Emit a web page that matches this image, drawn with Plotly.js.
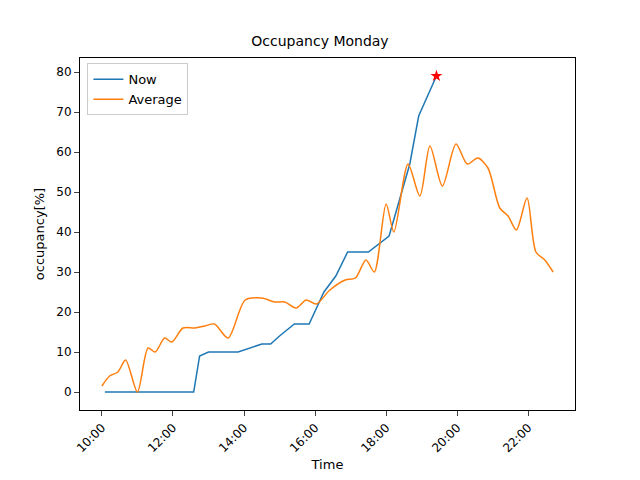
<html><head><script src="https://cdn.plot.ly/plotly-3.0.1.min.js"></script></head>
<body style="margin:0"><div id="chart" style="width:640px;height:480px"></div>
<script>
let day = "2024-01-01 "
let nowTimes = ["10:05","12:35","12:45","13:00","13:50","14:30","14:45","15:00","15:25","15:50","16:15","16:35","16:55","17:30","18:05","18:40","18:55","19:25"]
let nowValues = [0,0,9,10,10,12,12,14,17,17,25,29,35,35,39,57,69,79]
let avgTimes = ["10:00","10:13","10:27","10:40","11:00","11:18","11:30","11:46","11:58","12:17","12:37","12:54","13:10","13:33","14:02","14:30","14:52","15:09","15:28","15:45","16:02","16:25","16:51","17:08","17:26","17:40","18:00","18:13","18:37","18:57","19:14","19:35","19:58","20:17","20:35","20:52","21:12","21:26","21:40","21:58","22:13","22:28","22:42"]
let avgValues = [1.5,4,5,8,0,11,10,13.5,12.5,16,16,16.5,17,13.5,23,23.5,22.5,22.5,21,23,22,25.5,28,28.5,33,30,47,40,57,49,61.5,51.5,62,57,58.5,56,46,44,40.5,48.5,35,33,30]
let tickTimes = ["10:00","12:00","14:00","16:00","18:00","20:00","22:00"]

Plotly.newPlot("chart",[{
x:nowTimes.map(t=>day+t), y:nowValues, name:"Now", mode:"lines",
line:{color:"#1f77b4",width:1.5}
},{
x:avgTimes.map(t=>day+t), y:avgValues, name:"Average", mode:"lines",
line:{color:"#ff7f0e",width:1.5,shape:"spline",smoothing:0.8}
},{
x:[day+nowTimes[nowTimes.length-1]], y:[nowValues[nowValues.length-1]], mode:"markers",
marker:{symbol:"star",color:"red",size:9}, showlegend:false
}],{
width:640,height:480,
margin:{l:80,r:65,t:58,b:70},
paper_bgcolor:"white",plot_bgcolor:"white",
font:{family:"DejaVu Sans",size:12,color:"black"},
title:{text:"Occupancy Monday",font:{size:14},x:0.5,y:0.925},
showlegend:true,
legend:{x:0.015,y:0.985,bordercolor:"#ccc",borderwidth:1,font:{size:13}},
xaxis:{title:{text:"Time",font:{size:13}},type:"date",range:[day+"09:23",day+"23:19"],
tickvals:tickTimes.map(t=>day+t),ticktext:tickTimes,tickangle:-45,
showgrid:false,zeroline:false,showline:true,mirror:true,linecolor:"black",ticks:"outside"},
yaxis:{title:{text:"occupancy[%]",font:{size:13}},range:[-4.5,83.5],dtick:10,
showgrid:false,zeroline:false,showline:true,mirror:true,linecolor:"black",ticks:"outside"}
},{displayModeBar:false})
</script></body></html>
